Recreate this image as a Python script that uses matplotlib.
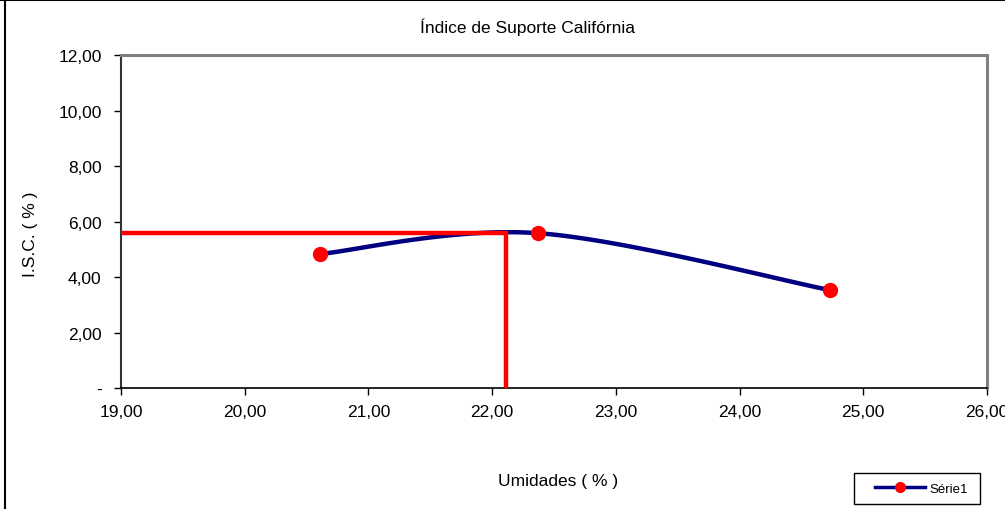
import numpy as np
import matplotlib.pyplot as plt
from matplotlib.lines import Line2D
from matplotlib.patches import Rectangle
from matplotlib.ticker import FuncFormatter

plt.rcParams['font.family'] = ['Liberation Sans', 'DejaVu Sans']

# ------------------------------------------------
# Data
# ------------------------------------------------
umidade = [20.61, 22.37, 24.73]
isc = [4.84, 5.59, 3.54]

umidade_otima = 22.11
isc_otimo = 5.60

x_ticks = [19, 20, 21, 22, 23, 24, 25, 26]
y_ticks = [0, 2, 4, 6, 8, 10, 12]


def excel_smooth(xs, ys, n=60):
    """Bezier smoothing similar to Excel's 'smoothed line'."""
    pts = np.column_stack([xs, ys])
    out = []
    for i in range(len(pts) - 1):
        p0 = pts[max(i - 1, 0)]
        p1 = pts[i]
        p2 = pts[i + 1]
        p3 = pts[min(i + 2, len(pts) - 1)]
        c1 = p1 + (p2 - p0) / 6.0
        c2 = p2 - (p3 - p1) / 6.0
        t = np.linspace(0, 1, n)[:, None]
        seg = ((1 - t) ** 3) * p1 + 3 * ((1 - t) ** 2) * t * c1 \
            + 3 * (1 - t) * t ** 2 * c2 + t ** 3 * p2
        out.append(seg)
    curve = np.vstack(out)
    return curve[:, 0], curve[:, 1]


fig = plt.figure(figsize=(10.05, 5.10), dpi=100)
ax = fig.add_axes([121 / 1005, 1 - 389.3 / 510, 866 / 1005, 333 / 510])

# Smoothed series
sx, sy = excel_smooth(umidade, isc)
ax.plot(sx, sy, color='#000080', linewidth=3.2, solid_capstyle='round',
        zorder=3)
ax.plot(umidade, isc, linestyle='none', marker='o', markersize=10,
        color='#ff0000', zorder=5)

# Optimum guide lines
ax.plot([x_ticks[0], umidade_otima, umidade_otima],
        [isc_otimo, isc_otimo, y_ticks[0]],
        color='#ff0000', linewidth=3.2, solid_joinstyle='miter',
        solid_capstyle='butt', zorder=4, clip_on=False)

ax.set_xlim(x_ticks[0], x_ticks[-1])
ax.set_ylim(y_ticks[0], y_ticks[-1])
ax.set_xticks(x_ticks)
ax.set_yticks(y_ticks)

fmt = FuncFormatter(lambda v, p: '-' if v == 0 else f'{v:.2f}'.replace('.', ','))
ax.xaxis.set_major_formatter(FuncFormatter(lambda v, p: f'{v:.2f}'.replace('.', ',')))
ax.yaxis.set_major_formatter(fmt)
ax.tick_params(direction='out', length=5, width=1, labelsize=12.5,
               colors='#000000')
ax.tick_params(axis='y', pad=9)
ax.tick_params(axis='x', pad=6)

for side in ['top', 'right']:
    ax.spines[side].set_color('#808080')
    ax.spines[side].set_linewidth(2.2)
ax.spines['left'].set_color('#333333')
ax.spines['left'].set_linewidth(1.5)
ax.spines['bottom'].set_color('#000000')
ax.spines['bottom'].set_linewidth(1.2)

fig.text(527 / 1005, 1 - 27 / 510, 'Índice de Suporte Califórnia',
         ha='center', va='center', fontsize=12.5)
fig.text(558 / 1005, 1 - 482 / 510, 'Umidades ( % )',
         ha='center', va='center', fontsize=12.5)
fig.text(30 / 1005, 1 - 234 / 510, 'I.S.C. ( % )', rotation=90,
         ha='center', va='center', fontsize=12.5)

# Legend (frame drawn separately to match the Excel box)
fig.add_artist(Rectangle((854 / 1005, 1 - 505 / 510), 126 / 1005, 31 / 510,
                         transform=fig.transFigure, facecolor='white',
                         edgecolor='black', linewidth=1.0))
handle = Line2D([], [], color='#000080', linewidth=2.5, marker='o',
                markersize=7, markerfacecolor='#ff0000',
                markeredgecolor='#ff0000')
leg = fig.legend([handle], ['Série1'], loc='center left',
                 bbox_to_anchor=(875 / 1005, 1 - 489.5 / 510),
                 fontsize=9.5, frameon=False, handlelength=3.8,
                 borderpad=0, handletextpad=0.3, borderaxespad=0)

# Chart area border (left and top)
fig.add_artist(Line2D([4.5 / 1005, 4.5 / 1005], [0, 1], color='black',
                      linewidth=1.5, transform=fig.transFigure))
fig.add_artist(Line2D([0, 1], [1 - 1 / 510, 1 - 1 / 510], color='black',
                      linewidth=1.5, transform=fig.transFigure))

fig.savefig('out.png', dpi=100)
